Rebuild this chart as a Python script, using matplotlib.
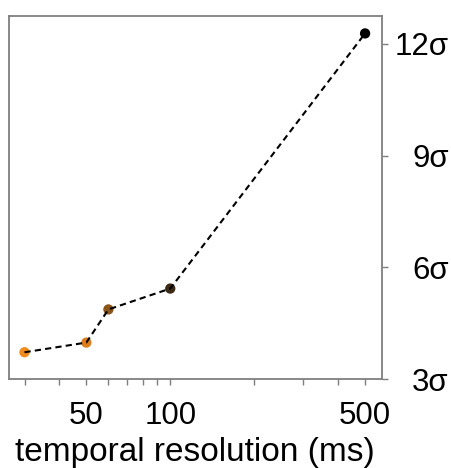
import matplotlib
matplotlib.use("Agg")
import matplotlib.pyplot as plt
from matplotlib.ticker import FixedLocator, NullFormatter

plt.rcParams['font.family'] = ['Liberation Sans', 'DejaVu Sans']

resolution_ms = [30, 50, 60, 100, 500]
significance = [3.72, 3.98, 4.87, 5.43, 12.28]
point_colors = ["#f28a1c", "#dc7d1a", "#8a551a", "#3a2a16", "#000000"]

y_ticks = [3, 6, 9, 12]
y_labels = ["3σ", "6σ", "9σ", "12σ"]
x_ticks = [50, 100, 500]
x_labels = ["50", "100", "500"]

fig = plt.figure(figsize=(4.51, 4.68), dpi=100)
ax = fig.add_axes([0.019, 0.19, 0.828, 0.776])

ax.scatter(resolution_ms, significance, c=point_colors, s=55, zorder=2, edgecolors="none")
ax.plot(resolution_ms, significance, color="black", linestyle=(0, (3, 2)), linewidth=1.5, zorder=3)

ax.set_xscale("log")
ax.set_xlim(26.3, 575)
ax.set_ylim(3, 12.75)

ax.xaxis.set_major_locator(FixedLocator(x_ticks))
ax.set_xticklabels(x_labels)
ax.xaxis.set_minor_locator(FixedLocator([30, 40, 60, 70, 80, 90, 200, 300, 400]))
ax.xaxis.set_minor_formatter(NullFormatter())

# sigma labels sit on the right, flush right
ax.yaxis.tick_right()
ax.set_yticks(y_ticks)
ax.set_yticklabels(y_labels)
for lab in ax.get_yticklabels():
    lab.set_horizontalalignment("right")

for sp in ax.spines.values():
    sp.set_color("#7f7f7f")
    sp.set_linewidth(1.3)
ax.tick_params(axis="both", which="both", colors="#7f7f7f", labelcolor="black", labelsize=22.5)
ax.tick_params(axis="x", which="major", length=4, width=1, pad=12)
ax.tick_params(axis="x", which="minor", length=4, width=1)
ax.tick_params(axis="y", length=4, width=1, pad=44)

ax.set_xlabel("temporal resolution (ms)", fontsize=24, labelpad=4)

fig.savefig("out.png", dpi=100)
